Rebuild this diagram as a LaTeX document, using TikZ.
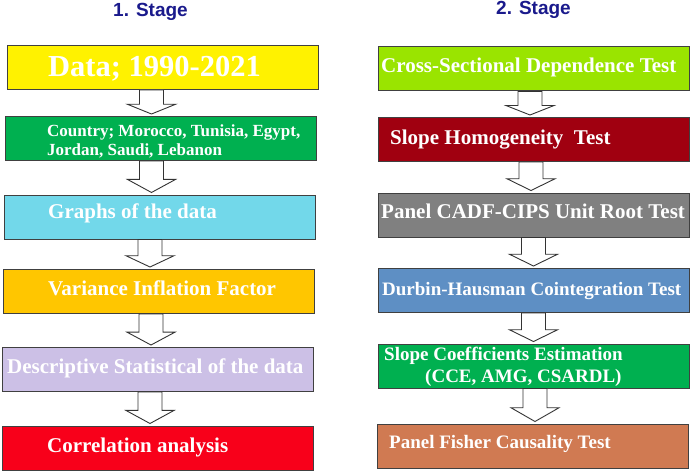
\documentclass[tikz,border=0pt]{standalone}
\usepackage{fontspec}
\setmainfont{Liberation Serif}
\newfontfamily\stagefont{Liberation Sans}
\usetikzlibrary{calc}

\definecolor{stageblue}{HTML}{1A1A8C}
\definecolor{yellowbox}{HTML}{FFF200}
\definecolor{greenbox}{HTML}{00B050}
\definecolor{cyanbox}{HTML}{72D8EA}
\definecolor{goldbox}{HTML}{FFC600}
\definecolor{lavbox}{HTML}{CCC0E6}
\definecolor{redbox}{HTML}{F8001A}
\definecolor{limebox}{HTML}{9AE400}
\definecolor{maroonbox}{HTML}{A00010}
\definecolor{graybox}{HTML}{808080}
\definecolor{bluebox}{HTML}{5E8FC4}
\definecolor{claybox}{HTML}{D07A52}

% hollow block arrow from one box down to the next, centred at x = #3
\newcommand{\stagearrow}[3]{%
  \draw [arrowbody] let \p1=(#1.south), \p2=(#2.north),
      \p3=($(#1.south)!0.55!(#2.north)$) in
    (#3pt-12pt,\y1) -- (#3pt+12pt,\y1) -- (#3pt+12pt,\y3) -- (#3pt+24pt,\y3)
    -- (#3pt,\y2+2pt) -- (#3pt-24pt,\y3) -- (#3pt-12pt,\y3) -- cycle;}

\begin{document}
\begin{tikzpicture}[x=1pt,y=-1pt,
		stagebox/.style={draw=black!75,line width=1pt,minimum width=311pt,minimum height=44pt,inner sep=0pt},
		boxtext/.style={anchor=base west,inner sep=0pt,text=white,font=\bfseries\fontsize{21}{24}\selectfont},
		smalltext/.style={boxtext,font=\bfseries\fontsize{17}{19}\selectfont},
		midtext/.style={boxtext,font=\bfseries\fontsize{19}{22}\selectfont},
		title/.style={anchor=base,text=stageblue,font=\stagefont\bfseries\fontsize{19}{21}\selectfont},
		arrowbody/.style={draw=black!80,line width=0.9pt,fill=white}]
		\useasboundingbox (0,0) rectangle (692,473);
		% titles
		\node [title] (T1) at (150.5,17) {1. Stage};
		\node [title] (T2) at (533.5,15) {2. Stage};
		% first stage
		\node [stagebox,fill=yellowbox] (L1) at (162.5,67.5) {};
		\node [stagebox,fill=greenbox] (L2) at (161,138.5) {};
		\node [stagebox,fill=cyanbox] (L3) at (160,217) {};
		\node [stagebox,fill=goldbox] (L4) at (159,291.5) {};
		\node [stagebox,fill=lavbox] (L5) at (158,369.5) {};
		\node [stagebox,fill=redbox] (L6) at (158,448) {};
		\node [boxtext,font=\bfseries\fontsize{30.5}{32}\selectfont] (L1t) at (48,77) {Data; 1990-2021};
		\node [smalltext] (L2t) at (47,137) {Country; Morocco, Tunisia, Egypt,};
		\node [smalltext] (L2u) at (47,155.5) {Jordan, Saudi, Lebanon};
		\node [boxtext] (L3t) at (48,218) {Graphs of the data};
		\node [boxtext] (L4t) at (48,295) {Variance Inflation Factor};
		\node [boxtext] (L5t) at (7,373) {Descriptive Statistical of the data};
		\node [boxtext] (L6t) at (47,452) {Correlation analysis};
		\stagearrow{L1}{L2}{151.5}
		\stagearrow{L2}{L3}{151.5}
		\stagearrow{L3}{L4}{150}
		\stagearrow{L4}{L5}{151}
		\stagearrow{L5}{L6}{150}
		% second stage
		\node [stagebox,fill=limebox] (R1) at (534,69) {};
		\node [stagebox,fill=maroonbox] (R2) at (534,139.5) {};
		\node [stagebox,fill=graybox] (R3) at (534,215) {};
		\node [stagebox,fill=bluebox] (R4) at (534,290.5) {};
		\node [stagebox,fill=greenbox] (R5) at (533.5,366) {};
		\node [stagebox,fill=claybox] (R6) at (532.5,446) {};
		\node [boxtext] (R1t) at (381,73) {Cross-Sectional Dependence Test};
		\node [boxtext] (R2t) at (390,145) {Slope Homogeneity\ \ Test};
		\node [boxtext] (R3t) at (381,218) {Panel CADF-CIPS Unit Root Test};
		\node [midtext] (R4t) at (382,295) {Durbin-Hausman Cointegration Test};
		\node [midtext] (R5t) at (384,360) {Slope Coefficients Estimation};
		\node [midtext] (R5u) at (425,382) {(CCE, AMG, CSARDL)};
		\node [midtext] (R6t) at (389,448) {Panel Fisher Causality Test};
		\stagearrow{R1}{R2}{530}
		\stagearrow{R2}{R3}{531}
		\stagearrow{R3}{R4}{533.5}
		\stagearrow{R4}{R5}{533.5}
		\stagearrow{R5}{R6}{535}
\end{tikzpicture}
\end{document}
